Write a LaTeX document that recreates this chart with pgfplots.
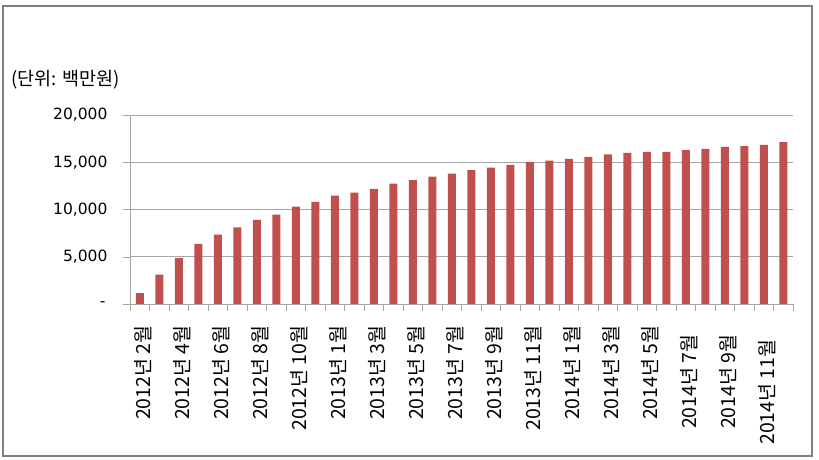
\documentclass[border=0pt]{standalone}
\usepackage{pgfplots}
\pgfplotsset{compat=1.18}
\usepackage{fontspec}
\setmainfont{Noto Sans CJK KR}
\newfontfamily\numfont{DejaVu Sans}
\definecolor{barred}{HTML}{C0504D}
\definecolor{gridgray}{HTML}{A6A6A6}
\definecolor{framegray}{HTML}{808080}

\begin{document}
\begin{tikzpicture}
\path[use as bounding box] (0pt,0pt) rectangle (819pt,460pt);
\draw[framegray,line width=2pt] (3pt,4pt) rectangle (812pt,454pt);
\node[anchor=west,font=\fontsize{18.5}{21}\selectfont,inner sep=0] at (11pt,380pt) {(단위: 백만원)};
\begin{axis}[
  at={(130pt,156pt)}, anchor=south west,
  scale only axis, width=663pt, height=189pt,
  xmin=0.5, xmax=34.5, ymin=0, ymax=20000,
  scaled y ticks=false,
  axis lines*=left, axis line style={gridgray},
  ytick={0,5000,10000,15000,20000},
  yticklabels={-\hspace*{2pt},{5,000},{10,000},{15,000},{20,000}},
  ymajorgrids, grid style={gridgray,line width=0.8pt},
  tick align=outside, major tick length=7pt, minor tick length=7pt,
  ytick style={gridgray},
  xtick={1,3,...,33},
  xticklabels={2012년 2월,2012년 4월,2012년 6월,2012년 8월,2012년 10월,
    2013년 1월,2013년 3월,2013년 5월,2013년 7월,2013년 9월,2013년 11월,
    2014년 1월,2014년 3월,2014년 5월,{2014년 7월\hspace*{9pt}},
    {2014년 9월\hspace*{9pt}},{2014년 11월\hspace*{14pt}}},
  major x tick style={draw=none},
  minor xtick={0.5,1.5,...,34.5},
  minor x tick style={gridgray},
  xticklabel style={xshift=3pt,yshift=-11pt,rotate=90,anchor=east,
    font=\fontsize{19.5}{22}\selectfont},
  yticklabel style={xshift=-12pt,font=\numfont\fontsize{15.5}{18}\selectfont},
]
% x = month index, 2012-02 .. 2014-12
\addplot[ybar,bar width=8pt,fill=barred,draw=none] table {
x y
1 1150
2 3100
3 4860
4 6370
5 7330
6 8100
7 8900
8 9470
9 10300
10 10800
11 11470
12 11790
13 12180
14 12740
15 13100
16 13490
17 13800
18 14160
19 14440
20 14730
21 15000
22 15180
23 15360
24 15580
25 15820
26 16000
27 16100
28 16100
29 16280
30 16420
31 16640
32 16700
33 16850
34 17130
};
\end{axis}
\end{tikzpicture}
\end{document}
